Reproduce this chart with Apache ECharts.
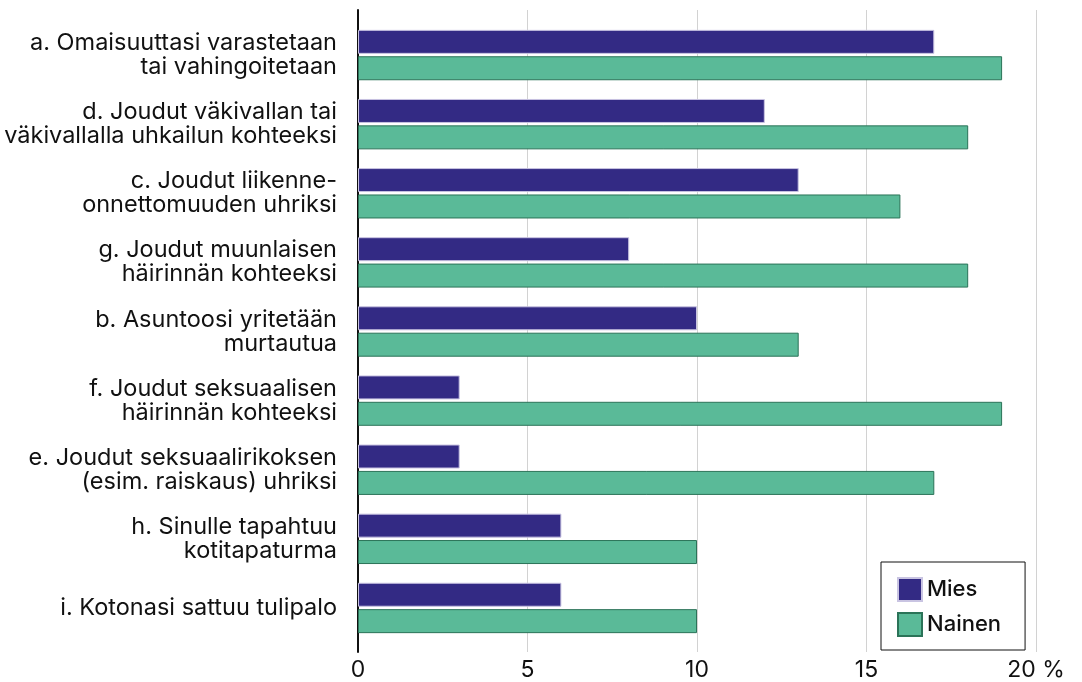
<!DOCTYPE html>
<html>
<head>
<meta charset="utf-8">
<script src="https://cdn.jsdelivr.net/npm/echarts@6/dist/echarts.min.js"></script>
<style>
  html, body { margin: 0; padding: 0; background: #fff; }
  #chart { width: 1082px; height: 682px; }
</style>
</head>
<body>
<div id="chart"></div>
<script>
const categories = [
  'a. Omaisuuttasi varastetaan\ntai vahingoitetaan',
  'd. Joudut väkivallan tai\nväkivallalla uhkailun kohteeksi',
  'c. Joudut liikenne-\nonnettomuuden uhriksi',
  'g. Joudut muunlaisen\nhäirinnän kohteeksi',
  'b. Asuntoosi yritetään\nmurtautua',
  'f. Joudut seksuaalisen\nhäirinnän kohteeksi',
  'e. Joudut seksuaalirikoksen\n(esim. raiskaus) uhriksi',
  'h. Sinulle tapahtuu\nkotitapaturma',
  'i. Kotonasi sattuu tulipalo'
]
const mies = [17, 12, 13, 8, 10, 3, 3, 6, 6]
const nainen = [19, 18, 16, 18, 13, 19, 17, 10, 10]
const xTicks = [0, 5, 10, 15, 20]

const FONT = 'Inter, Roboto, sans-serif'
const chart = echarts.init(document.getElementById('chart'))

chart.setOption({
  animation: false,
  textStyle: { fontFamily: FONT },
  grid: [
    // bars
    { left: 358, right: 46, top: 20.5, bottom: 39.5 },
    // axis frame, grid lines and tick labels
    { left: 358, right: 46, top: 10, bottom: 29 }
  ],
  legend: {
    data: ['Mies', 'Nainen'],
    orient: 'vertical',
    left: 881,
    top: 562,
    icon: 'rect',
    itemWidth: 24,
    itemHeight: 23,
    itemGap: 10,
    padding: [15, 24, 13, 16],
    borderColor: '#111',
    borderWidth: 1,
    backgroundColor: '#fff',
    textStyle: { fontSize: 22, fontWeight: 500, color: '#111', fontFamily: FONT }
  },
  xAxis: [
    {
      gridIndex: 0, type: 'value', min: 0, max: 20, interval: 5,
      show: false
    },
    {
      gridIndex: 1, type: 'value', min: 0, max: 20, interval: 5,
      axisLine: { show: false },
      axisTick: { show: false },
      splitLine: { show: true, lineStyle: { color: '#d2d2d2', width: 1 } },
      axisLabel: {
        margin: 7,
        fontSize: 23,
        color: '#111',
        fontFamily: FONT,
        formatter: v => (v === xTicks[xTicks.length - 1] ? v + ' %' : String(v))
      }
    }
  ],
  yAxis: [
    {
      gridIndex: 0, type: 'category', data: categories, inverse: true,
      axisLine: { show: false },
      axisTick: { show: false },
      splitLine: { show: false },
      axisLabel: {
        margin: 21,
        fontSize: 23.5,
        lineHeight: 24,
        color: '#111',
        align: 'right',
        fontFamily: FONT
      }
    },
    {
      gridIndex: 1, type: 'value', min: 0, max: 1,
      axisLine: { show: true, lineStyle: { color: '#111', width: 2 } },
      axisTick: { show: false },
      axisLabel: { show: false },
      splitLine: { show: false }
    }
  ],
  series: [
    {
      name: 'Mies',
      type: 'bar',
      xAxisIndex: 0, yAxisIndex: 0,
      data: mies,
      barWidth: 24,
      barGap: '10%',
      itemStyle: { color: '#332a84', borderColor: '#c9c4e2', borderWidth: 1 },
      z: 3
    },
    {
      name: 'Nainen',
      type: 'bar',
      xAxisIndex: 0, yAxisIndex: 0,
      data: nainen,
      barWidth: 24,
      barGap: '10%',
      itemStyle: { color: '#5aba98', borderColor: '#2b7358', borderWidth: 1 },
      z: 3
    }
  ]
})
</script>
</body>
</html>
